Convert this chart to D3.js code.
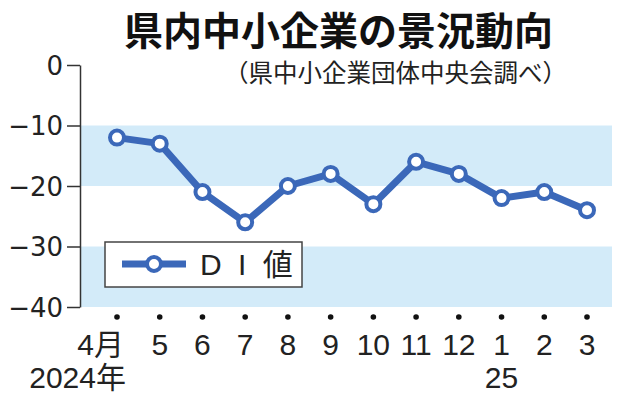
<!DOCTYPE html>
<html>
<head>
<meta charset="utf-8">
<script src="https://cdn.jsdelivr.net/npm/d3@7"></script>
<style>
  body { margin: 0; background: #fff; }
</style>
</head>
<body>
<div id="chart"></div>
<script>
// data
var months = ["4月", "5", "6", "7", "8", "9", "10", "11", "12", "1", "2", "3"];
var diValues = [-12, -13, -21, -26, -20, -18, -23, -16, -18, -22, -21, -24];
var yTicks = [0, -10, -20, -30, -40];
var bands = [[-10, -20], [-30, -40]];
var yearLabels = [{ month: "4月", text: "2024年" }, { month: "1", text: "25" }];

var width = 634, height = 400;
var blue = "#3b68b9";

var svg = d3.select("#chart").append("svg")
    .attr("width", width)
    .attr("height", height);

var x = d3.scalePoint()
    .domain(months)
    .range([117, 587]);

var y = d3.scaleLinear()
    .domain([0, -40])
    .range([65, 307]);

// shaded bands
svg.selectAll(".band")
    .data(bands)
    .enter().append("rect")
    .attr("class", "band")
    .attr("x", 80)
    .attr("width", 612 - 80)
    .attr("y", function(d) { return y(d[0]); })
    .attr("height", function(d) { return y(d[1]) - y(d[0]); })
    .attr("fill", "#d3ebf9");

// y axis
var yAxis = d3.axisLeft(y)
    .tickValues(yTicks)
    .tickSize(13)
    .tickSizeOuter(0)
    .tickPadding(4);

var gy = svg.append("g")
    .attr("transform", "translate(80,0)")
    .call(yAxis);
gy.select(".domain").attr("stroke", "#333").attr("stroke-width", 1.5);
gy.selectAll(".tick line").attr("stroke", "#333").attr("stroke-width", 1.5);
gy.selectAll(".tick text")
    .attr("fill", "#222")
    .attr("dy", "0.36em")
    .style("font-family", "DejaVu Sans")
    .style("font-size", "26px");

// month dots and labels
svg.selectAll(".mdot")
    .data(months)
    .enter().append("circle")
    .attr("class", "mdot")
    .attr("cx", function(d) { return x(d); })
    .attr("cy", 317)
    .attr("r", 2.8)
    .attr("fill", "#111");

svg.selectAll(".mlabel")
    .data(months)
    .enter().append("text")
    .attr("class", "mlabel")
    .attr("x", function(d, i) { return i == 0 ? x(d) + 7 : x(d); })
    .attr("y", 355)
    .attr("text-anchor", function(d, i) { return i == 0 ? "end" : "middle"; })
    .attr("fill", "#222")
    .style("font-family", "Liberation Sans, 'Noto Sans CJK JP'")
    .style("font-size", "30px")
    .text(function(d) { return d; });

svg.selectAll(".ylabel")
    .data(yearLabels)
    .enter().append("text")
    .attr("class", "ylabel")
    .attr("x", function(d, i) { return i == 0 ? x(d.month) + 9 : x(d.month); })
    .attr("y", 388)
    .attr("text-anchor", function(d, i) { return i == 0 ? "end" : "middle"; })
    .attr("fill", "#222")
    .style("font-family", "Liberation Sans, 'Noto Sans CJK JP'")
    .style("font-size", "30px")
    .text(function(d) { return d.text; });

// line
var line = d3.line()
    .x(function(d, i) { return x(months[i]); })
    .y(function(d) { return y(d); });

svg.append("path")
    .datum(diValues)
    .attr("d", line)
    .attr("fill", "none")
    .attr("stroke", blue)
    .attr("stroke-width", 7)
    .attr("stroke-linejoin", "round");

svg.selectAll(".pt")
    .data(diValues)
    .enter().append("circle")
    .attr("class", "pt")
    .attr("cx", function(d, i) { return x(months[i]); })
    .attr("cy", function(d) { return y(d); })
    .attr("r", 7)
    .attr("fill", "#fff")
    .attr("stroke", blue)
    .attr("stroke-width", 4);

// legend
var lg = svg.append("g").attr("transform", "translate(105,242)");
lg.append("rect")
    .attr("width", 197)
    .attr("height", 45)
    .attr("fill", "#fff")
    .attr("stroke", "#444")
    .attr("stroke-width", 1.5);
lg.append("line")
    .attr("x1", 17).attr("x2", 81)
    .attr("y1", 22).attr("y2", 22)
    .attr("stroke", blue)
    .attr("stroke-width", 7);
lg.append("circle")
    .attr("cx", 49).attr("cy", 22).attr("r", 7)
    .attr("fill", "#fff")
    .attr("stroke", blue)
    .attr("stroke-width", 4);
lg.append("text")
    .attr("x", 95)
    .attr("y", 33)
    .attr("fill", "#222")
    .style("font-family", "Liberation Sans, 'Noto Sans CJK JP'")
    .style("font-size", "30px")
    .style("word-spacing", "8px")
    .text("D I 値");

// titles
svg.append("text")
    .attr("x", 124)
    .attr("y", 45)
    .attr("fill", "#111")
    .style("font-family", "'Noto Sans CJK JP'")
    .style("font-weight", "bold")
    .style("font-size", "39px")
    .text("県内中小企業の景況動向");

svg.append("text")
    .attr("x", 567)
    .attr("y", 82)
    .attr("text-anchor", "end")
    .attr("fill", "#222")
    .style("font-family", "'Noto Sans CJK JP'")
    .style("font-size", "24.5px")
    .text("（県中小企業団体中央会調べ）");
</script>
</body>
</html>
